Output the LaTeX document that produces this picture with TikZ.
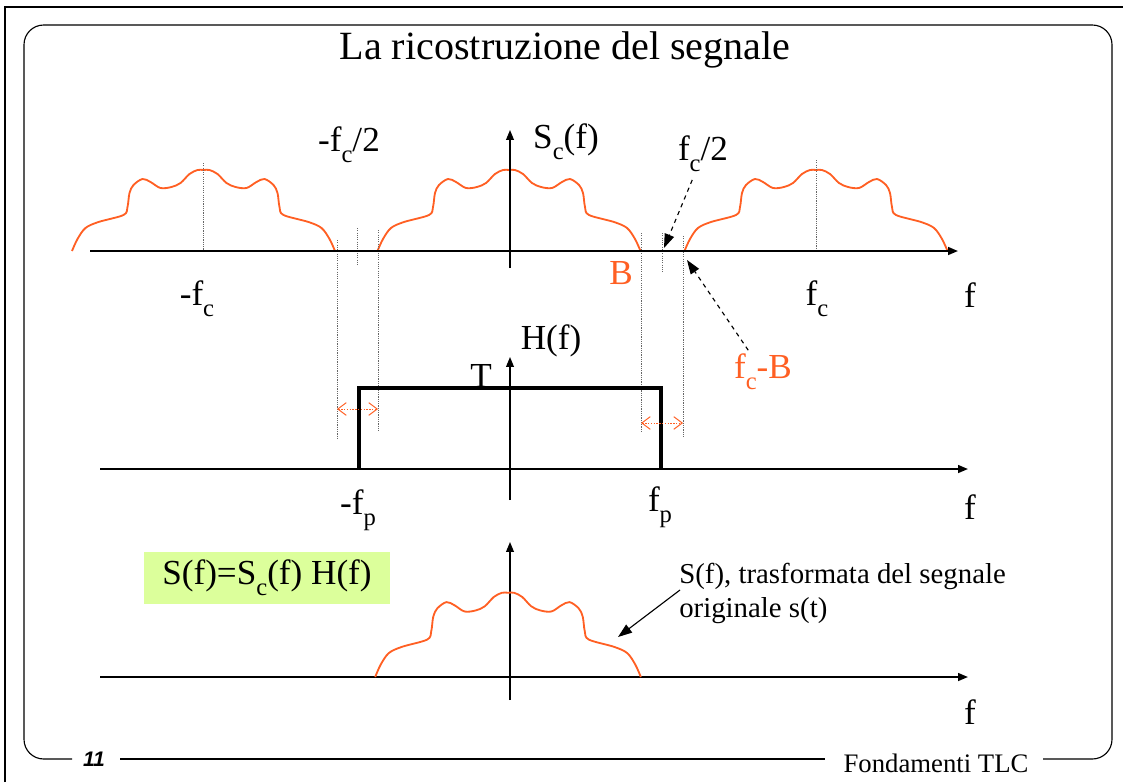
\documentclass[tikz,border=0pt]{standalone}
\usepackage{fontspec}
\usepackage{graphicx}
\setmainfont{Liberation Serif}
\newfontfamily\arialfont{Liberation Sans}
\usetikzlibrary{arrows.meta,positioning}
\definecolor{arancio}{RGB}{255,95,35}
\definecolor{verdino}{RGB}{220,255,155}
\newcommand\pedice[1]{\raisebox{-0.3em}{\scalebox{0.7}{#1}}}

\begin{document}
\begin{tikzpicture}[
  x=0.025cm, y=-0.025cm,
  >={Triangle[length=7pt,width=5.5pt]},
  ax/.style={->, line width=1.3pt},
  yax/.style={->, line width=0.9pt},
  spec/.style={draw=arancio, line width=1.3pt},
  guide/.style={black!60, line width=0.7pt, dash pattern=on 0.8pt off 0.8pt},
  ptr/.style={-{Triangle[length=10pt,width=7pt]}, line width=0.8pt},
  dim/.style={{Straight Barb[length=6pt,width=9pt]}-{Straight Barb[length=6pt,width=9pt]},
              arancio, line width=0.7pt, dash pattern=on 1pt off 1pt},
  lbl/.style={font=\fontsize{25}{28}\selectfont, inner sep=1pt},
  frame/.style={line width=0.8pt},
  spettro/.pic={
    \draw[spec] plot[smooth, tension=0.55] coordinates {
      (-131.5,0) (-126,-12) (-118,-23) (-105,-29) (-80,-36) (-76,-44) (-74,-58)
      (-70,-66) (-61,-72) (-53,-69) (-43,-63) (-32,-64) (-23,-68) (-14,-77)
      (-6,-81) (0,-81) (6,-81) (14,-77) (23,-68) (32,-64) (43,-63) (53,-69)
      (61,-72) (70,-66) (74,-58) (76,-44) (80,-36) (105,-29) (118,-23)
      (126,-12) (131.5,0)};
  },
]
\useasboundingbox (0,0) rectangle (1123,782);

% cornice
\draw[line width=0.9pt] (5,782) -- (5,7) -- (1123,7);
\draw[frame, rounded corners=14pt] (72,759) -- (24,759) -- (24,25) -- (1112,25) -- (1112,759) -- (1043,759);
\draw[frame] (120,759) -- (825,759);
\node[font=\arialfont\bfseries\itshape\fontsize{15}{17}\selectfont] (pg) at (94,759) {11};
\node[font=\fontsize{19}{22}\selectfont] (ft) at (936,763) {Fondamenti TLC};

\node[font=\fontsize{28.5}{32}\selectfont] (title) at (565,50) {La ricostruzione del segnale};

% spettro replicato S_c(f)
\pic at (203.5,251) {spettro};
\pic at (509,251) {spettro};
\pic at (816,251) {spettro};

\draw[guide] (203,163) -- (203,251);
\draw[guide] (816,160) -- (816,251);
\draw[guide] (337,240) -- (337,440);
\draw[guide] (357,228) -- (357,266);
\draw[guide] (378,230) -- (378,432);
\draw[guide] (641,233) -- (641,433);
\draw[guide] (662,233) -- (662,273);
\draw[guide] (683,236) -- (683,437);

\coordinate (t0) at (90,251);
\coordinate (t1) at (958,251);
\coordinate (tv0) at (510,268);
\coordinate (tv1) at (510,130);
\draw[ax] (t0) -- (t1);
\draw[yax] (tv0) -- (tv1);

\node[lbl] (lfcm2) at (349,145) {-f\pedice{c}/2};
\node[lbl] (lSc)   at (566,142) {S\pedice{c}(f)};
\node[lbl] (lfc2)  at (703,154) {f\pedice{c}/2};
\node[lbl] (lmfc)  at (197,299) {-f\pedice{c}};
\node[lbl, text=arancio] (lB) at (621,273) {B};
\node[lbl] (lfc)   at (817,299) {f\pedice{c}};
\node[lbl] (lf1)   at (970,295) {f};
\node[lbl, text=arancio] (lfcB) at (763,372) {f\pedice{c}-B};

\coordinate (pfc2) at (664,248);
\coordinate (pfcB) at (687,260);
\draw[ptr, dashed, shorten <=5pt] (lfc2) -- (pfc2);
\draw[ptr, dashed, shorten <=2pt] (lfcB) -- (pfcB);

% filtro H(f)
\coordinate (m0) at (100,469);
\coordinate (m1) at (968,469);
\coordinate (mv0) at (510,500);
\coordinate (mv1) at (510,357);
\draw[ax] (m0) -- (m1);
\draw[yax] (mv0) -- (mv1);
\draw[line width=2.2pt] (359,469) |- (661,388) -- (661,469);
\draw[dim] (337,409) -- (378,409);
\draw[dim] (641,423) -- (683,423);

\node[lbl] (lH)   at (551,341) {H(f)};
\node[lbl] (lT)   at (481,376) {T};
\node[lbl] (lmfp) at (358,510) {-f\pedice{p}};
\node[lbl] (lfp)  at (660,507) {f\pedice{p}};
\node[lbl] (lf2)  at (970,507) {f};

% segnale ricostruito
\coordinate (b0) at (100,677);
\coordinate (b1) at (968,677);
\coordinate (bv0) at (510,700);
\coordinate (bv1) at (510,542);
\draw[ax] (b0) -- (b1);
\draw[yax] (bv0) -- (bv1);
\pic[yscale=1.04, xscale=1.01] at (508,677) {spettro};
\node[lbl] (lf3) at (970,712) {f};

\node[fill=verdino, minimum width=246*0.025cm, minimum height=52*0.025cm,
      font=\fontsize{25}{28}\selectfont] (eq) at (267,578) {S(f)=S\pedice{c}(f) H(f)};
\node[anchor=north west, align=left, inner sep=0pt,
      font=\fontsize{20.5}{24}\selectfont] (nota) at (679,563)
  {S(f), trasformata del segnale\\originale s(t)};
\coordinate (anota) at (680,590);
\coordinate (pS) at (618,637);
\draw[ptr] (anota) -- (pS);

\end{tikzpicture}
\end{document}
